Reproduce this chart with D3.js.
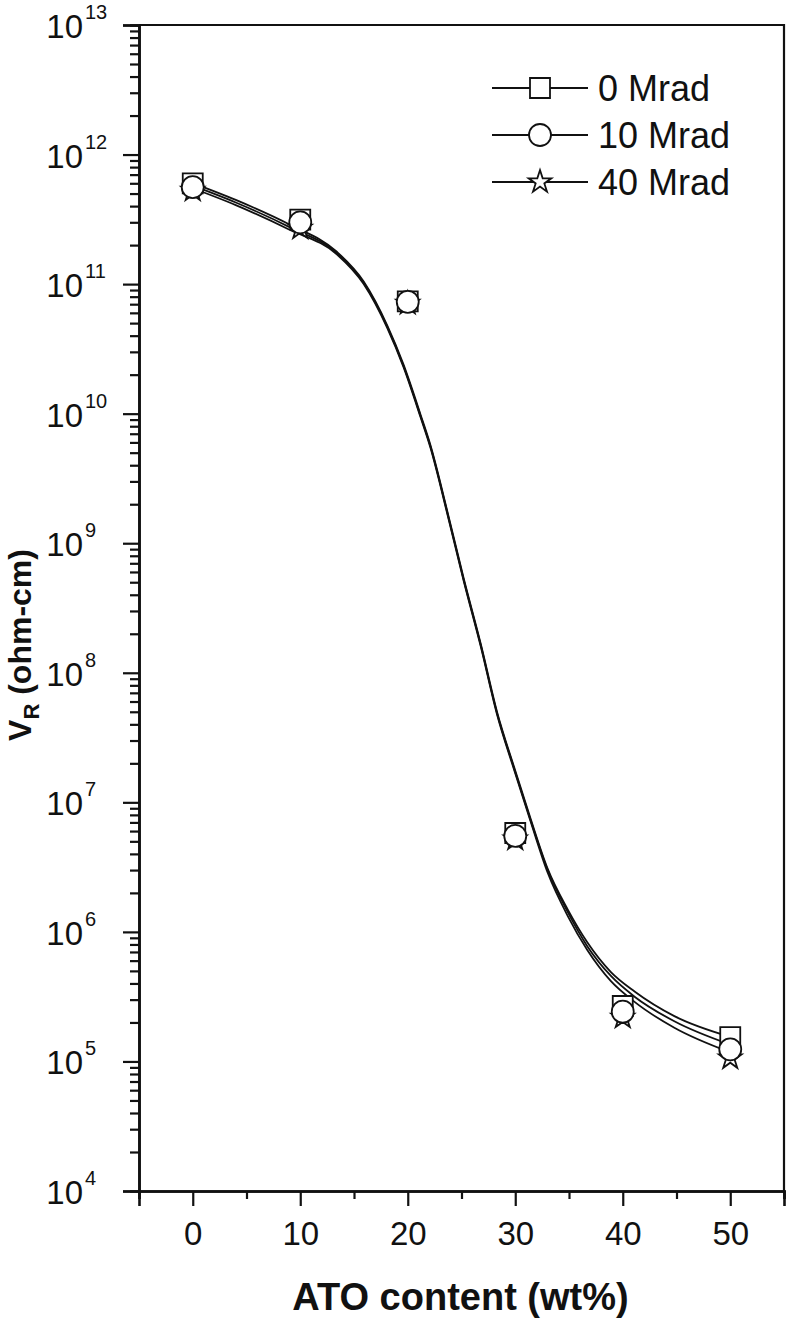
<!DOCTYPE html>
<html>
<head>
<meta charset="utf-8">
<script src="https://cdn.jsdelivr.net/npm/d3@7/dist/d3.min.js"></script>
<style>
  html, body { margin: 0; padding: 0; background: #fff; }
  svg { display: block; }
  text { font-family: "Liberation Sans", Arial, Helvetica, sans-serif; fill: #111; }
</style>
</head>
<body>
<svg id="chart" width="787" height="1324"></svg>
<script>
// ---- data ----
const atoContent = [0, 10, 20, 30, 40, 50];
const seriesNames = ["0 Mrad", "10 Mrad", "40 Mrad"];
const vr0 = [6.0e11, 3.15e11, 7.35e10, 5.8e6, 2.68e5, 1.54e5];
const vr10 = [5.6e11, 3.0e11, 7.3e10, 5.5e6, 2.42e5, 1.24e5];
const vr40 = [5.3e11, 2.7e11, 7.1e10, 5.2e6, 2.19e5, 1.06e5];

// fitted curves, x in wt%, values as log10(VR)
const fitX = [0, 4, 9, 13.4, 15.9, 18.1, 19.6, 21.2, 22.1, 23.7, 25.2, 26.8, 28.3, 29.9, 31.4, 33, 34.9, 36.7, 38.9, 41.1, 44.8, 50];
const fitLog0 = [11.78, 11.65, 11.46, 11.25, 11.02, 10.68, 10.38, 9.99, 9.76, 9.24, 8.73, 8.22, 7.70, 7.27, 6.88, 6.49, 6.17, 5.92, 5.69, 5.54, 5.35, 5.19];
const fitLog10 = [11.76, 11.63, 11.44, 11.24, 11.01, 10.67, 10.37, 9.98, 9.75, 9.23, 8.72, 8.21, 7.69, 7.26, 6.87, 6.48, 6.15, 5.89, 5.66, 5.50, 5.31, 5.13];
const fitLog40 = [11.74, 11.61, 11.42, 11.23, 11.00, 10.66, 10.36, 9.97, 9.74, 9.22, 8.71, 8.20, 7.68, 7.25, 6.86, 6.46, 6.12, 5.86, 5.62, 5.46, 5.26, 5.07];

const xTicks = [0, 10, 20, 30, 40, 50];
const xMinorTicks = [-5, 5, 15, 25, 35, 45, 55];
const yTickExponents = [4, 5, 6, 7, 8, 9, 10, 11, 12, 13];

// ---- layout ----
const svg = d3.select("#chart");
const L = 139, R = 784, T = 25, B = 1191;

const x = d3.scaleLinear().domain([-5, 55]).range([L, R]);
const y = d3.scaleLog().domain([1e4, 1e13]).range([B, T]);

// frame (top & right)
svg.append("path")
  .attr("d", `M${L},${T}H${R}V${B}`)
  .attr("fill", "none").attr("stroke", "#111").attr("stroke-width", 2.2);

// x axis
const gx = svg.append("g").attr("transform", `translate(0,${B})`);
gx.call(d3.axisBottom(x).tickValues(xTicks).tickSize(15).tickPadding(16).tickFormat(d3.format("d")));
gx.append("g").call(d3.axisBottom(x).tickValues(xMinorTicks).tickSize(8).tickFormat(""));
gx.selectAll(".domain").attr("stroke", "#111").attr("stroke-width", 2.6);
gx.selectAll(".tick line").attr("stroke", "#111").attr("stroke-width", 2.2);
gx.selectAll(".tick text").style("font-size", "33px").attr("fill", "#111");

// y axis
const majors = yTickExponents.map(e => Math.pow(10, e));
const minors = [];
for (let e = 4; e < 13; e++) for (let k = 2; k <= 9; k++) minors.push(k * Math.pow(10, e));

const gy = svg.append("g").attr("transform", `translate(${L},0)`);
gy.call(d3.axisLeft(y).tickValues(majors).tickSize(16).tickPadding(13).tickFormat(""));
gy.append("g").call(d3.axisLeft(y).tickValues(minors).tickSize(9).tickFormat(""));
gy.selectAll(".domain").attr("stroke", "#111").attr("stroke-width", 2.6);
gy.selectAll(".tick line").attr("stroke", "#111").attr("stroke-width", 2.2);

// y tick labels as 10^n
const ylab = svg.append("g");
yTickExponents.forEach(e => {
  const yy = y(Math.pow(10, e));
  ylab.append("text")
    .attr("x", 83).attr("y", yy + 13)
    .attr("text-anchor", "end")
    .style("font-size", "33px").text("10");
  ylab.append("text")
    .attr("x", 85).attr("y", yy - 6)
    .attr("text-anchor", "start")
    .style("font-size", "20px").text(String(e));
});

// axis titles
svg.append("text")
  .attr("x", (L + R) / 2 - 1).attr("y", 1310)
  .attr("text-anchor", "middle")
  .style("font-size", "38px").style("font-weight", "bold")
  .text("ATO content (wt%)");

const yt = svg.append("text")
  .attr("transform", `translate(31,645) rotate(-90)`)
  .attr("text-anchor", "middle")
  .style("font-size", "32px").style("font-weight", "bold");
yt.append("tspan").text("V");
yt.append("tspan").style("font-size", "22px").attr("dy", 8).text("R");
yt.append("tspan").attr("dy", -8).text(" (ohm-cm)");

// fitted curves
const line = d3.line()
  .x(d => x(d[0]))
  .y(d => y(Math.pow(10, d[1])))
  .curve(d3.curveMonotoneX);
[fitLog0, fitLog10, fitLog40].forEach(arr => {
  svg.append("path")
    .datum(fitX.map((xv, i) => [xv, arr[i]]))
    .attr("d", line)
    .attr("fill", "none").attr("stroke", "#111").attr("stroke-width", 1.8);
});

// markers
const symSquare = d3.symbol().type(d3.symbolSquare).size(400);
const symCircle = d3.symbol().type(d3.symbolCircle).size(380);
const symStar = d3.symbol().type(d3.symbolStar).size(160);
const seriesDefs = [
  { vals: vr0, sym: symSquare },
  { vals: vr40, sym: symStar },
  { vals: vr10, sym: symCircle }
];
seriesDefs.forEach(s => {
  svg.append("g").selectAll("path")
    .data(atoContent.map((xv, i) => [xv, s.vals[i]]))
    .join("path")
    .attr("transform", d => `translate(${x(d[0])},${y(d[1])})`)
    .attr("d", s.sym())
    .attr("fill", "#fff").attr("stroke", "#111").attr("stroke-width", 1.8);
});

// legend
const legSyms = [symSquare, symCircle, symStar];
const legY = [88, 135, 182];
seriesNames.forEach((name, i) => {
  const g = svg.append("g").attr("transform", `translate(0,${legY[i]})`);
  g.append("line").attr("x1", 492).attr("x2", 588).attr("y1", 0).attr("y2", 0)
    .attr("stroke", "#111").attr("stroke-width", 1.8);
  g.append("path").attr("transform", "translate(540,0)").attr("d", legSyms[i]())
    .attr("fill", "#fff").attr("stroke", "#111").attr("stroke-width", 1.8);
  g.append("text").attr("x", 598).attr("y", 13).style("font-size", "36px").text(name);
});
</script>
</body>
</html>
